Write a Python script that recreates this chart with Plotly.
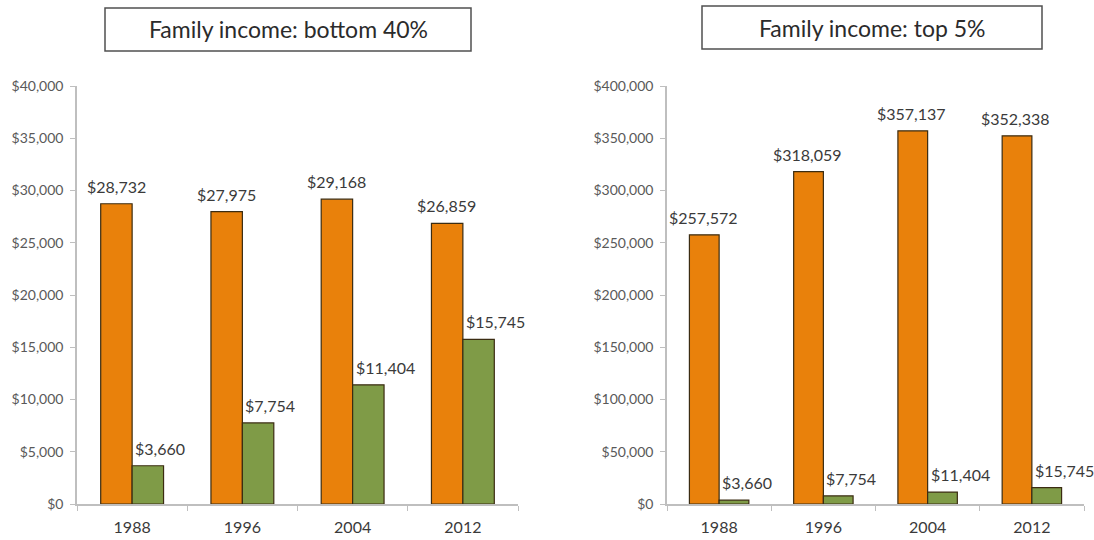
import plotly.graph_objects as go

# Survey years shown on both panels
years = ["1988", "1996", "2004", "2012"]

# Orange series: family income for each income group
income_bottom_40 = [28732, 27975, 29168, 26859]
income_top_5 = [257572, 318059, 357137, 352338]

# Green series: shared comparison values drawn in both panels
green_values = [3660, 7754, 11404, 15745]

# Axis tick values
ticks_left = [0, 5000, 10000, 15000, 20000, 25000, 30000, 35000, 40000]
ticks_right = [0, 50000, 100000, 150000, 200000, 250000, 300000, 350000, 400000]

panel_titles = ["Family income: bottom 40%", "Family income: top 5%"]

ORANGE = "#E9810B"
GREEN = "#7F9B47"
OUTLINE = "#3b2c12"
AXIS_GREY = "#BFBFBF"
FONT = "Lato"


def money(v):
    return f"${v:,}"


fig = go.Figure()

panels = [
    ("x", "y", income_bottom_40),
    ("x2", "y2", income_top_5),
]

for xa, ya, top_vals in panels:
    fig.add_trace(go.Bar(
        x=years, y=top_vals, xaxis=xa, yaxis=ya,
        marker=dict(color=ORANGE, line=dict(color=OUTLINE, width=1.2)),
        showlegend=False, hoverinfo="skip",
    ))
    fig.add_trace(go.Bar(
        x=years, y=green_values, xaxis=xa, yaxis=ya,
        marker=dict(color=GREEN, line=dict(color=OUTLINE, width=1.2)),
        showlegend=False, hoverinfo="skip",
    ))

# Value labels above each bar (category axes take the category index)
annotations = []
for xa, ya, top_vals in panels:
    for i, v in enumerate(top_vals):
        annotations.append(dict(
            x=i, y=v, xref=xa, yref=ya, text=money(v),
            showarrow=False, xanchor="center", yanchor="bottom",
            xshift=-16, yshift=6,
            font=dict(family=FONT, size=16, color="#3a3a3a"),
        ))
    for i, v in enumerate(green_values):
        annotations.append(dict(
            x=i, y=v, xref=xa, yref=ya, text=money(v),
            showarrow=False, xanchor="left", yanchor="bottom",
            xshift=1, yshift=6,
            font=dict(family=FONT, size=16, color="#3a3a3a"),
        ))

# Boxed panel titles
W, H = 1094, 540
title_boxes = [
    (105, 471, 8, 51, panel_titles[0]),
    (702, 1042, 6, 49, panel_titles[1]),
]
shapes = []
for x0, x1, y0, y1, txt in title_boxes:
    shapes.append(dict(
        type="rect", xref="paper", yref="paper",
        x0=x0 / W, x1=x1 / W, y0=1 - y1 / H, y1=1 - y0 / H,
        line=dict(color="#505050", width=1.5), fillcolor="white",
    ))
    annotations.append(dict(
        x=(x0 + x1) / 2 / W, y=1 - (y0 + y1) / 2 / H,
        xref="paper", yref="paper", text=txt, showarrow=False,
        xanchor="center", yanchor="middle",
        font=dict(family=FONT, size=23, color="#2b2b2b"),
    ))

ydom = [1 - 504 / H, 1 - 86 / H]

xaxis_common = dict(
    type="category", range=[-0.5, len(years) - 0.5], automargin=False,
    showline=True, linecolor=AXIS_GREY, linewidth=1.5,
    ticks="outside", tickson="boundaries", ticklen=5, tickcolor=AXIS_GREY,
    tickfont=dict(family=FONT, size=16, color="#3a3a3a"),
    tickangle=0, ticklabelstandoff=8,
    showgrid=False, zeroline=False, fixedrange=True,
)
yaxis_common = dict(
    automargin=False,
    showline=True, linecolor=AXIS_GREY, linewidth=1.5,
    ticks="outside", ticklen=5, tickcolor=AXIS_GREY,
    tickfont=dict(family=FONT, size=14, color="#595959"),
    ticklabelstandoff=4,
    showgrid=False, zeroline=False, fixedrange=True, domain=ydom,
)

fig.update_layout(
    width=W, height=H, autosize=False,
    margin=dict(l=0, r=0, t=0, b=0, pad=0, autoexpand=False),
    paper_bgcolor="white", plot_bgcolor="white",
    barmode="group", bargap=0.43, bargroupgap=0,
    xaxis=dict(domain=[77 / W, 518 / W], anchor="y", **xaxis_common),
    xaxis2=dict(domain=[667 / W, 1084 / W], anchor="y2", **xaxis_common),
    yaxis=dict(anchor="x", range=[0, 40000], tickvals=ticks_left,
               ticktext=[money(v) for v in ticks_left], **yaxis_common),
    yaxis2=dict(anchor="x2", range=[0, 400000], tickvals=ticks_right,
                ticktext=[money(v) for v in ticks_right], **yaxis_common),
    shapes=shapes,
    annotations=annotations,
)

# Drop the browser's default page margin so the figure sits flush at the corner
fig.write_html(
    "out.html",
    config={"displayModeBar": False},
    post_script="document.body.style.margin='0';document.body.style.overflow='hidden';",
)
